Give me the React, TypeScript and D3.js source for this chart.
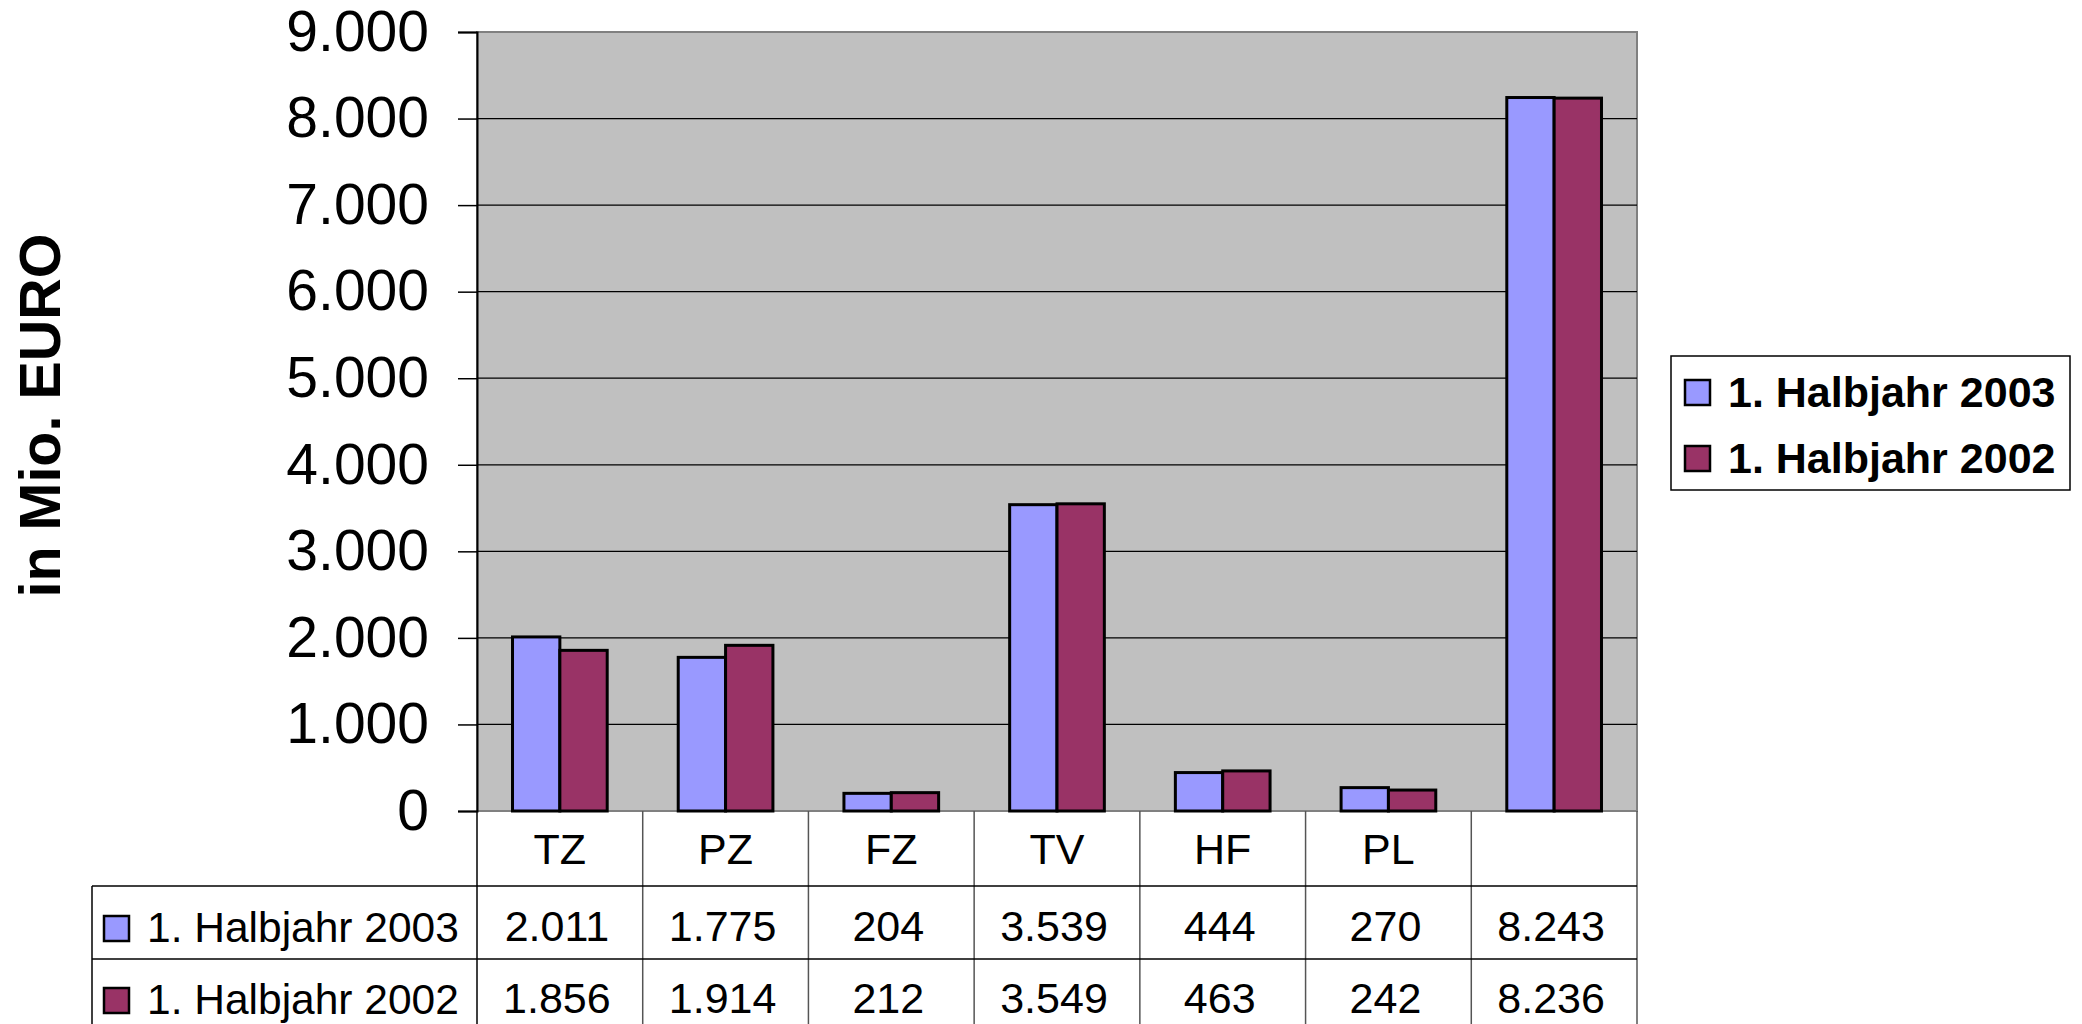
import React, { useRef, useEffect } from "react";
import * as d3 from "d3";

// Kategorien und Werte (in Mio. EURO)
const categories = ["TZ", "PZ", "FZ", "TV", "HF", "PL", ""];
const seriesNames = ["1. Halbjahr 2003", "1. Halbjahr 2002"];
const values2003 = [2011, 1775, 204, 3539, 444, 270, 8243];
const values2002 = [1856, 1914, 212, 3549, 463, 242, 8236];
const yTicks = [0, 1000, 2000, 3000, 4000, 5000, 6000, 7000, 8000, 9000];
const colors = ["#9999FF", "#993366"];

const FONT = "'Liberation Sans', Arial, sans-serif";

export default function App() {
  const svgRef = useRef<SVGSVGElement>(null);

  useEffect(() => {
    const W = 2082;
    const H = 1024;
    const plot = { left: 477, right: 1637, top: 32, bottom: 811 };
    const tableLeft = 92;
    const rowTop = [886, 959];

    const svg = d3.select(svgRef.current).attr("width", W).attr("height", H);
    svg.selectAll("*").remove();

    const x = d3
      .scaleBand<string>()
      .domain(categories.map((c, i) => String(i)))
      .range([plot.left, plot.right]);
    const x1 = d3
      .scaleBand<string>()
      .domain(["0", "1"])
      .range([0, x.bandwidth()])
      .paddingOuter(0.75)
      .paddingInner(0);
    const y = d3.scaleLinear().domain([0, 9000]).range([plot.bottom, plot.top]);
    const fmt = (v: number) => d3.format(",")(v).replace(/,/g, ".");

    // Zeichenfläche
    svg
      .append("rect")
      .attr("x", plot.left)
      .attr("y", plot.top)
      .attr("width", plot.right - plot.left)
      .attr("height", plot.bottom - plot.top)
      .attr("fill", "#C0C0C0")
      .attr("stroke", "#808080")
      .attr("stroke-width", 2);

    // Gitterlinien
    svg
      .selectAll(".grid")
      .data(yTicks.slice(1, -1))
      .enter()
      .append("line")
      .attr("x1", plot.left)
      .attr("x2", plot.right)
      .attr("y1", (d) => y(d))
      .attr("y2", (d) => y(d))
      .attr("stroke", "#000")
      .attr("stroke-width", 1.3);

    // Y-Achse
    const yAxis = svg
      .append("g")
      .attr("transform", `translate(${plot.left},0)`)
      .call(
        d3
          .axisLeft(y)
          .tickValues(yTicks)
          .tickSize(19)
          .tickPadding(29)
          .tickFormat((d) => fmt(d as number))
      );
    yAxis.select(".domain").attr("stroke", "#000").attr("stroke-width", 2);
    yAxis.selectAll(".tick line").attr("stroke", "#000").attr("stroke-width", 1.5);
    yAxis
      .selectAll(".tick text")
      .attr("font-family", FONT)
      .attr("font-size", 57)
      .attr("fill", "#000");

    // Balken
    const series = [values2003, values2002];
    series.forEach((vals, s) => {
      svg
        .selectAll(`.bar${s}`)
        .data(vals)
        .enter()
        .append("rect")
        .attr("x", (d, i) => (x(String(i)) as number) + (x1(String(s)) as number))
        .attr("y", (d) => y(d))
        .attr("width", x1.bandwidth())
        .attr("height", (d) => plot.bottom - y(d))
        .attr("fill", colors[s])
        .attr("stroke", "#000")
        .attr("stroke-width", 3);
    });

    // Datentabelle
    const t = svg.append("g");
    // senkrechte Linien
    categories.forEach((c, i) => {
      const xx = x(String(i)) as number;
      t.append("line")
        .attr("x1", xx)
        .attr("x2", xx)
        .attr("y1", plot.bottom)
        .attr("y2", H)
        .attr("stroke", i === 0 ? "#000" : "#555")
        .attr("stroke-width", 1.5);
    });
    t.append("line")
      .attr("x1", plot.right)
      .attr("x2", plot.right)
      .attr("y1", plot.bottom)
      .attr("y2", H)
      .attr("stroke", "#555")
      .attr("stroke-width", 1.5);
    t.append("line")
      .attr("x1", tableLeft)
      .attr("x2", tableLeft)
      .attr("y1", rowTop[0])
      .attr("y2", H)
      .attr("stroke", "#000")
      .attr("stroke-width", 1.5);
    rowTop.forEach((ry) => {
      t.append("line")
        .attr("x1", tableLeft)
        .attr("x2", plot.right)
        .attr("y1", ry)
        .attr("y2", ry)
        .attr("stroke", "#000")
        .attr("stroke-width", 1.5);
    });

    // Kategorienamen
    t.selectAll(".cat")
      .data(categories)
      .enter()
      .append("text")
      .attr("x", (d, i) => (x(String(i)) as number) + x.bandwidth() / 2)
      .attr("y", 864)
      .attr("text-anchor", "middle")
      .attr("font-family", FONT)
      .attr("font-size", 43)
      .text((d) => d);

    // Werte und Zeilenbeschriftung
    const baselines = [941, 1013];
    series.forEach((vals, s) => {
      t.selectAll(`.val${s}`)
        .data(vals)
        .enter()
        .append("text")
        .attr("x", (d, i) => (x(String(i)) as number) + x.bandwidth() / 2 - 3)
        .attr("y", baselines[s])
        .attr("text-anchor", "middle")
        .attr("font-family", FONT)
        .attr("font-size", 43)
        .text((d) => fmt(d));

      t.append("rect")
        .attr("x", 104)
        .attr("y", baselines[s] - 25)
        .attr("width", 25)
        .attr("height", 25)
        .attr("fill", colors[s])
        .attr("stroke", "#000")
        .attr("stroke-width", 2.5);
      t.append("text")
        .attr("x", 147)
        .attr("y", baselines[s] + 1)
        .attr("font-family", FONT)
        .attr("font-size", 42.5)
        .text(seriesNames[s]);
    });

    // Legende
    const lg = svg.append("g");
    lg.append("rect")
      .attr("x", 1671)
      .attr("y", 356)
      .attr("width", 399)
      .attr("height", 134)
      .attr("fill", "#fff")
      .attr("stroke", "#000")
      .attr("stroke-width", 1.5);
    seriesNames.forEach((name, s) => {
      const by = 407 + s * 66;
      lg.append("rect")
        .attr("x", 1685)
        .attr("y", by - 27)
        .attr("width", 25)
        .attr("height", 25)
        .attr("fill", colors[s])
        .attr("stroke", "#000")
        .attr("stroke-width", 2.5);
      lg.append("text")
        .attr("x", 1728)
        .attr("y", by)
        .attr("font-family", FONT)
        .attr("font-size", 43)
        .attr("font-weight", "bold")
        .text(name);
    });

    // Achsentitel
    svg
      .append("text")
      .attr("transform", `translate(60,${(plot.top + plot.bottom) / 2 - 6}) rotate(-90)`)
      .attr("text-anchor", "middle")
      .attr("font-family", FONT)
      .attr("font-size", 57.5)
      .attr("font-weight", "bold")
      .text("in Mio. EURO");
  }, []);

  return (
    <svg
      ref={svgRef}
      style={{ position: "absolute", left: 0, top: 0, background: "#fff" }}
    ></svg>
  );
}
